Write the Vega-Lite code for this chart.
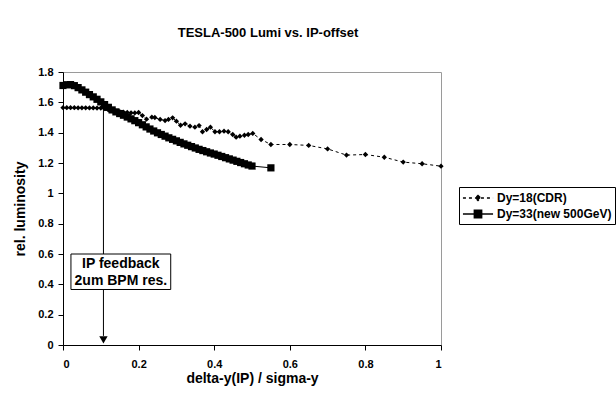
{
  "$schema": "https://vega.github.io/schema/vega-lite/v6.json",
  "width": 378,
  "height": 273,
  "autosize": {"type": "none"},
  "padding": {"left": 63, "top": 72, "right": 175, "bottom": 53},
  "background": "white",
  "config": {
    "font": "Liberation Sans",
    "view": {"stroke": "#9a9a9a", "strokeWidth": 1},
    "axis": {
      "grid": false,
      "domainColor": "black",
      "tickColor": "black",
      "labelColor": "black",
      "titleColor": "black",
      "labelFont": "Liberation Sans",
      "titleFont": "Liberation Sans",
      "labelFontWeight": "bold",
      "titleFontWeight": "bold",
      "labelFontSize": 11,
      "titleFontSize": 14,
      "labelOverlap": false
    }
  },
  "title": {
    "text": "TESLA-500 Lumi vs. IP-offset",
    "font": "Liberation Sans",
    "fontSize": 13,
    "fontWeight": "bold",
    "color": "black",
    "anchor": "middle",
    "dx": 16,
    "offset": 26
  },
  "datasets": {
    "lumi": [
      {"series": "Dy=18(CDR)", "x": 0.00, "y": 1.565},
      {"series": "Dy=18(CDR)", "x": 0.01, "y": 1.565},
      {"series": "Dy=18(CDR)", "x": 0.02, "y": 1.565},
      {"series": "Dy=18(CDR)", "x": 0.03, "y": 1.565},
      {"series": "Dy=18(CDR)", "x": 0.04, "y": 1.564},
      {"series": "Dy=18(CDR)", "x": 0.05, "y": 1.564},
      {"series": "Dy=18(CDR)", "x": 0.06, "y": 1.564},
      {"series": "Dy=18(CDR)", "x": 0.07, "y": 1.563},
      {"series": "Dy=18(CDR)", "x": 0.08, "y": 1.563},
      {"series": "Dy=18(CDR)", "x": 0.09, "y": 1.562},
      {"series": "Dy=18(CDR)", "x": 0.10, "y": 1.562},
      {"series": "Dy=18(CDR)", "x": 0.11, "y": 1.558},
      {"series": "Dy=18(CDR)", "x": 0.12, "y": 1.550},
      {"series": "Dy=18(CDR)", "x": 0.13, "y": 1.545},
      {"series": "Dy=18(CDR)", "x": 0.14, "y": 1.541},
      {"series": "Dy=18(CDR)", "x": 0.15, "y": 1.538},
      {"series": "Dy=18(CDR)", "x": 0.16, "y": 1.535},
      {"series": "Dy=18(CDR)", "x": 0.17, "y": 1.533},
      {"series": "Dy=18(CDR)", "x": 0.18, "y": 1.531},
      {"series": "Dy=18(CDR)", "x": 0.19, "y": 1.530},
      {"series": "Dy=18(CDR)", "x": 0.20, "y": 1.533},
      {"series": "Dy=18(CDR)", "x": 0.21, "y": 1.513},
      {"series": "Dy=18(CDR)", "x": 0.221, "y": 1.489},
      {"series": "Dy=18(CDR)", "x": 0.235, "y": 1.502},
      {"series": "Dy=18(CDR)", "x": 0.243, "y": 1.500},
      {"series": "Dy=18(CDR)", "x": 0.257, "y": 1.487},
      {"series": "Dy=18(CDR)", "x": 0.270, "y": 1.480},
      {"series": "Dy=18(CDR)", "x": 0.279, "y": 1.487},
      {"series": "Dy=18(CDR)", "x": 0.290, "y": 1.498},
      {"series": "Dy=18(CDR)", "x": 0.300, "y": 1.476},
      {"series": "Dy=18(CDR)", "x": 0.311, "y": 1.449},
      {"series": "Dy=18(CDR)", "x": 0.323, "y": 1.458},
      {"series": "Dy=18(CDR)", "x": 0.336, "y": 1.443},
      {"series": "Dy=18(CDR)", "x": 0.349, "y": 1.436},
      {"series": "Dy=18(CDR)", "x": 0.360, "y": 1.447},
      {"series": "Dy=18(CDR)", "x": 0.369, "y": 1.406},
      {"series": "Dy=18(CDR)", "x": 0.380, "y": 1.421},
      {"series": "Dy=18(CDR)", "x": 0.390, "y": 1.436},
      {"series": "Dy=18(CDR)", "x": 0.402, "y": 1.406},
      {"series": "Dy=18(CDR)", "x": 0.414, "y": 1.406},
      {"series": "Dy=18(CDR)", "x": 0.426, "y": 1.410},
      {"series": "Dy=18(CDR)", "x": 0.437, "y": 1.406},
      {"series": "Dy=18(CDR)", "x": 0.449, "y": 1.388},
      {"series": "Dy=18(CDR)", "x": 0.458, "y": 1.370},
      {"series": "Dy=18(CDR)", "x": 0.468, "y": 1.377},
      {"series": "Dy=18(CDR)", "x": 0.480, "y": 1.383},
      {"series": "Dy=18(CDR)", "x": 0.490, "y": 1.388},
      {"series": "Dy=18(CDR)", "x": 0.502, "y": 1.395},
      {"series": "Dy=18(CDR)", "x": 0.524, "y": 1.355},
      {"series": "Dy=18(CDR)", "x": 0.55, "y": 1.322},
      {"series": "Dy=18(CDR)", "x": 0.60, "y": 1.322},
      {"series": "Dy=18(CDR)", "x": 0.65, "y": 1.316},
      {"series": "Dy=18(CDR)", "x": 0.70, "y": 1.293},
      {"series": "Dy=18(CDR)", "x": 0.75, "y": 1.252},
      {"series": "Dy=18(CDR)", "x": 0.80, "y": 1.256},
      {"series": "Dy=18(CDR)", "x": 0.85, "y": 1.238},
      {"series": "Dy=18(CDR)", "x": 0.90, "y": 1.206},
      {"series": "Dy=18(CDR)", "x": 0.95, "y": 1.195},
      {"series": "Dy=18(CDR)", "x": 1.00, "y": 1.179},
      {"series": "Dy=33(new 500GeV)", "x": 0.00, "y": 1.711},
      {"series": "Dy=33(new 500GeV)", "x": 0.01, "y": 1.716},
      {"series": "Dy=33(new 500GeV)", "x": 0.02, "y": 1.717},
      {"series": "Dy=33(new 500GeV)", "x": 0.03, "y": 1.710},
      {"series": "Dy=33(new 500GeV)", "x": 0.04, "y": 1.697},
      {"series": "Dy=33(new 500GeV)", "x": 0.05, "y": 1.682},
      {"series": "Dy=33(new 500GeV)", "x": 0.06, "y": 1.667},
      {"series": "Dy=33(new 500GeV)", "x": 0.07, "y": 1.651},
      {"series": "Dy=33(new 500GeV)", "x": 0.08, "y": 1.636},
      {"series": "Dy=33(new 500GeV)", "x": 0.09, "y": 1.620},
      {"series": "Dy=33(new 500GeV)", "x": 0.10, "y": 1.603},
      {"series": "Dy=33(new 500GeV)", "x": 0.11, "y": 1.585},
      {"series": "Dy=33(new 500GeV)", "x": 0.12, "y": 1.567},
      {"series": "Dy=33(new 500GeV)", "x": 0.13, "y": 1.550},
      {"series": "Dy=33(new 500GeV)", "x": 0.14, "y": 1.537},
      {"series": "Dy=33(new 500GeV)", "x": 0.15, "y": 1.526},
      {"series": "Dy=33(new 500GeV)", "x": 0.16, "y": 1.515},
      {"series": "Dy=33(new 500GeV)", "x": 0.17, "y": 1.503},
      {"series": "Dy=33(new 500GeV)", "x": 0.18, "y": 1.491},
      {"series": "Dy=33(new 500GeV)", "x": 0.19, "y": 1.479},
      {"series": "Dy=33(new 500GeV)", "x": 0.20, "y": 1.466},
      {"series": "Dy=33(new 500GeV)", "x": 0.21, "y": 1.452},
      {"series": "Dy=33(new 500GeV)", "x": 0.22, "y": 1.438},
      {"series": "Dy=33(new 500GeV)", "x": 0.23, "y": 1.424},
      {"series": "Dy=33(new 500GeV)", "x": 0.24, "y": 1.411},
      {"series": "Dy=33(new 500GeV)", "x": 0.25, "y": 1.399},
      {"series": "Dy=33(new 500GeV)", "x": 0.26, "y": 1.388},
      {"series": "Dy=33(new 500GeV)", "x": 0.27, "y": 1.377},
      {"series": "Dy=33(new 500GeV)", "x": 0.28, "y": 1.366},
      {"series": "Dy=33(new 500GeV)", "x": 0.29, "y": 1.356},
      {"series": "Dy=33(new 500GeV)", "x": 0.30, "y": 1.346},
      {"series": "Dy=33(new 500GeV)", "x": 0.31, "y": 1.336},
      {"series": "Dy=33(new 500GeV)", "x": 0.32, "y": 1.326},
      {"series": "Dy=33(new 500GeV)", "x": 0.33, "y": 1.317},
      {"series": "Dy=33(new 500GeV)", "x": 0.34, "y": 1.308},
      {"series": "Dy=33(new 500GeV)", "x": 0.35, "y": 1.299},
      {"series": "Dy=33(new 500GeV)", "x": 0.36, "y": 1.290},
      {"series": "Dy=33(new 500GeV)", "x": 0.37, "y": 1.282},
      {"series": "Dy=33(new 500GeV)", "x": 0.38, "y": 1.274},
      {"series": "Dy=33(new 500GeV)", "x": 0.39, "y": 1.266},
      {"series": "Dy=33(new 500GeV)", "x": 0.40, "y": 1.259},
      {"series": "Dy=33(new 500GeV)", "x": 0.41, "y": 1.251},
      {"series": "Dy=33(new 500GeV)", "x": 0.42, "y": 1.243},
      {"series": "Dy=33(new 500GeV)", "x": 0.43, "y": 1.235},
      {"series": "Dy=33(new 500GeV)", "x": 0.44, "y": 1.227},
      {"series": "Dy=33(new 500GeV)", "x": 0.45, "y": 1.219},
      {"series": "Dy=33(new 500GeV)", "x": 0.46, "y": 1.211},
      {"series": "Dy=33(new 500GeV)", "x": 0.47, "y": 1.203},
      {"series": "Dy=33(new 500GeV)", "x": 0.48, "y": 1.195},
      {"series": "Dy=33(new 500GeV)", "x": 0.49, "y": 1.187},
      {"series": "Dy=33(new 500GeV)", "x": 0.50, "y": 1.180},
      {"series": "Dy=33(new 500GeV)", "x": 0.55, "y": 1.168}
    ],
    "arrow": [
      {"x": 0.107, "y": 1.56, "ybase": 0.06, "ytip": 0.034}
    ],
    "box": [
      {"x": 0.021, "x2": 0.285, "y": 0.366, "y2": 0.600}
    ],
    "notes": [
      {"x": 0.153, "y": 0.532, "label": "IP feedback"},
      {"x": 0.153, "y": 0.420, "label": "2um BPM res."}
    ]
  },
  "encoding": {
    "x": {"field": "x", "type": "quantitative", "scale": {"domain": [0, 1], "nice": false, "zero": false},
      "axis": {"values": [0, 0.2, 0.4, 0.6, 0.8, 1], "format": "~g", "title": "delta-y(IP) / sigma-y", "tickSize": 5, "labelPadding": 8, "titlePadding": 2}},
    "y": {"field": "y", "type": "quantitative", "scale": {"domain": [0, 1.8], "nice": false},
      "axis": {"values": [0, 0.2, 0.4, 0.6, 0.8, 1, 1.2, 1.4, 1.6, 1.8], "format": "~g", "title": "rel. luminosity", "tickSize": 5, "labelPadding": 5, "titlePadding": 10}}
  },
  "layer": [
    {
      "data": {"name": "lumi"},
      "transform": [{"filter": "datum.series === 'Dy=18(CDR)'"}],
      "mark": {"type": "line", "color": "black", "strokeWidth": 1, "strokeDash": [3, 3]}
    },
    {
      "data": {"name": "lumi"},
      "transform": [{"filter": "datum.series === 'Dy=33(new 500GeV)'"}],
      "mark": {"type": "line", "color": "black", "strokeWidth": 1}
    },
    {
      "data": {"name": "lumi"},
      "transform": [{"filter": "datum.series === 'Dy=18(CDR)'"}],
      "mark": {"type": "point", "shape": "diamond", "filled": true, "color": "black", "opacity": 1, "size": 28}
    },
    {
      "data": {"name": "lumi"},
      "transform": [{"filter": "datum.series === 'Dy=33(new 500GeV)'"}],
      "mark": {"type": "point", "shape": "square", "filled": true, "color": "black", "opacity": 1, "size": 52}
    },
    {
      "data": {"name": "lumi"},
      "mark": {"type": "point", "filled": true, "fill": "black", "stroke": "black", "strokeWidth": 1, "opacity": 0},
      "encoding": {
        "shape": {"field": "series", "type": "nominal",
          "scale": {"domain": ["Dy=18(CDR)", "Dy=33(new 500GeV)"], "range": ["M-2.15,0L2.15,0M0,-0.36L0.36,0L0,0.36L-0.36,0Z", "M-2.15,0L2.15,0M-0.52,-0.52L0.52,-0.52L0.52,0.52L-0.52,0.52Z"]},
          "legend": {"title": null, "orient": "none", "legendX": 396, "legendY": 115, "strokeColor": "black", "fillColor": "white", "padding": 3, "symbolSize": 196, "symbolOffset": 8, "labelOffset": 11, "labelFont": "Liberation Sans", "labelFontSize": 12, "labelFontWeight": "bold", "labelColor": "black", "rowPadding": 2,
            "encode": {"symbols": {"update": {"stroke": {"value": "black"}, "strokeWidth": {"value": 1}, "strokeOpacity": {"value": 1}, "fill": {"value": "black"}, "fillOpacity": {"value": 1}, "opacity": {"value": 1}}}}}},
        "strokeDash": {"field": "series", "type": "nominal",
          "scale": {"domain": ["Dy=18(CDR)", "Dy=33(new 500GeV)"], "range": [[3, 3], [1, 0]]},
          "legend": {"title": null, "orient": "none", "legendX": 396, "legendY": 115, "strokeColor": "black", "fillColor": "white", "padding": 3, "symbolSize": 196, "symbolOffset": 8, "labelOffset": 11, "labelFont": "Liberation Sans", "labelFontSize": 12, "labelFontWeight": "bold", "labelColor": "black", "rowPadding": 2,
            "encode": {"symbols": {"update": {"stroke": {"value": "black"}, "strokeWidth": {"value": 1}, "strokeOpacity": {"value": 1}, "fill": {"value": "black"}, "fillOpacity": {"value": 1}, "opacity": {"value": 1}}}}}}
      }
    },
    {
      "data": {"name": "arrow"},
      "mark": {"type": "rule", "color": "black", "strokeWidth": 1},
      "encoding": {
        "y2": {"field": "ybase"}
      }
    },
    {
      "data": {"name": "arrow"},
      "mark": {"type": "point", "shape": "triangle-down", "filled": true, "color": "black", "opacity": 1, "size": 70},
      "encoding": {
        "y": {"field": "ytip", "type": "quantitative"}
      }
    },
    {
      "data": {"name": "box"},
      "mark": {"type": "rect", "fill": "white", "stroke": "black", "strokeWidth": 1},
      "encoding": {
        "x2": {"field": "x2"},
        "y2": {"field": "y2"}
      }
    },
    {
      "data": {"name": "notes"},
      "mark": {"type": "text", "font": "Liberation Sans", "fontSize": 14, "fontWeight": "bold", "color": "black", "align": "center", "baseline": "middle"},
      "encoding": {
        "text": {"field": "label"}
      }
    }
  ]
}
